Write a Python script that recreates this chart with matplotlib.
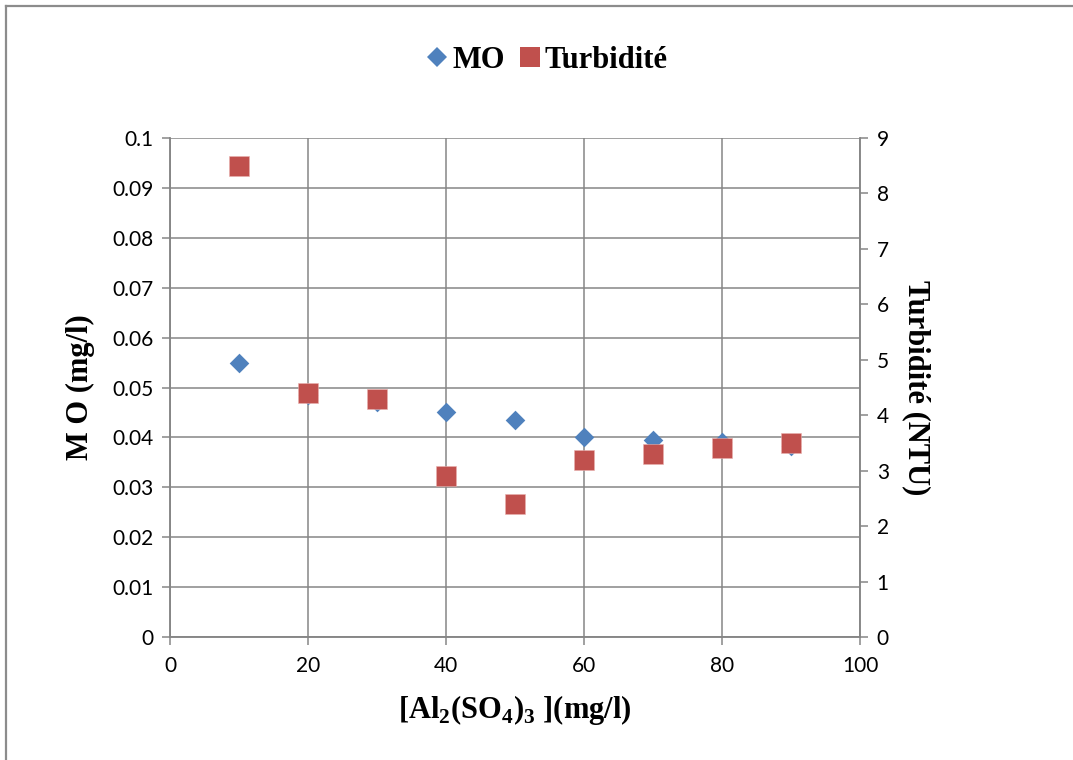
import numpy as np
import matplotlib.pyplot as plt
from matplotlib.lines import Line2D

plt.rcParams['mathtext.fontset'] = 'custom'
plt.rcParams['mathtext.bf'] = 'Liberation Serif:bold'
plt.rcParams['mathtext.rm'] = 'Liberation Serif:bold'

# dose de sulfate d'aluminium (mg/l)
dose = [10, 20, 30, 40, 50, 60, 70, 80, 90]
mo = [0.055, 0.0485, 0.047, 0.045, 0.0435, 0.040, 0.0395, 0.039, 0.0383]
turb = [8.5, 4.4, 4.3, 2.9, 2.4, 3.2, 3.3, 3.4, 3.5]

blue = '#4F81BD'
red = '#C0504D'
grid_c = '#868686'
tick_font = 'Lato'
label_font = 'Liberation Serif'

fig = plt.figure(figsize=(10.73, 7.6), dpi=100)
ax1 = fig.add_axes([170/1073, 1-637/760, 690/1073, 499/760])
ax2 = ax1.twinx()

ax1.scatter(dose, mo, marker='D', s=10**2, color=blue, zorder=3, linewidths=0)
ax2.scatter(dose, turb, marker='s', s=14**2, color=red, zorder=3,
            edgecolors='#e8b0ae', linewidths=0.4)

ax1.set_xlim(0, 100)
ax1.set_ylim(0, 0.1)
ax2.set_ylim(0, 9)
ax1.set_xticks(np.arange(0, 101, 20))
ax1.set_yticks(np.arange(0, 0.1001, 0.01))
ax1.set_yticklabels(['0', '0.01', '0.02', '0.03', '0.04', '0.05',
                     '0.06', '0.07', '0.08', '0.09', '0.1'])
ax2.set_yticks(range(10))

ax1.grid(True, color=grid_c, lw=1.1)
ax1.set_axisbelow(True)
for ax in (ax1, ax2):
    ax.spines['top'].set_visible(False)
    for side in ('left', 'right', 'bottom'):
        ax.spines[side].set_color(grid_c)
        ax.spines[side].set_linewidth(1.1)
    ax.tick_params(length=6, width=1.1, color=grid_c, labelsize=15, pad=6)
    for lab in ax.get_xticklabels() + ax.get_yticklabels():
        lab.set_fontfamily(tick_font)
ax1.tick_params(axis='x', pad=8)

lab_kw = dict(fontfamily=label_font, fontweight='bold', fontsize=22)
ax1.set_xlabel(r'[Al$_\mathbf{2}$(SO$_\mathbf{4}$)$_\mathbf{3}$ ](mg/l)',
               labelpad=12, **lab_kw)
ax1.set_ylabel('M O (mg/l)', labelpad=12, **lab_kw)
ax2.set_ylabel('Turbidité (NTU)', rotation=270, labelpad=30, **lab_kw)

handles = [Line2D([], [], marker='D', ls='none', color=blue, ms=10, mew=0),
           Line2D([], [], marker='s', ls='none', color=red, ms=14, mew=0)]
fig.legend(handles, ['MO', 'Turbidité'], loc='center', bbox_to_anchor=(545/1073, 1-60/760),
           ncol=2, frameon=False, handletextpad=0.0, columnspacing=0.3,
           handlelength=1.0, prop=dict(family=label_font, weight='bold', size=22))

# cadre du graphique
fig.add_artist(Line2D([5.5/1073, 1], [1-5.5/760, 1-5.5/760], color='#8c8c8c', lw=1.6))
fig.add_artist(Line2D([5.5/1073, 5.5/1073], [0, 1-5.5/760], color='#8c8c8c', lw=1.6))

fig.savefig('out.png', dpi=100)
